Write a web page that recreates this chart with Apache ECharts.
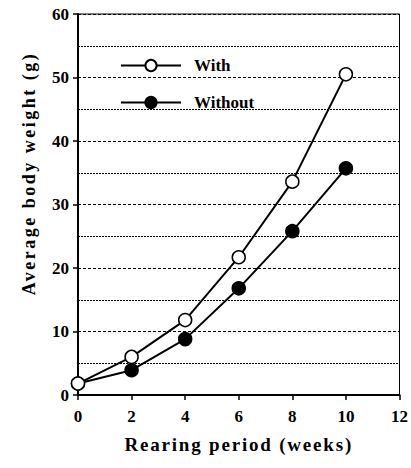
<!DOCTYPE html>
<html><head><meta charset="utf-8">
<script src="https://cdn.jsdelivr.net/npm/echarts@6/dist/echarts.min.js"></script>
<style>html,body{margin:0;padding:0;background:#fff}#c{width:411px;height:468px}</style>
</head><body><div id="c"></div>
<script>
const weeks = [0, 2, 4, 6, 8, 10];
const withValues = [1.8, 6.0, 11.8, 21.7, 33.6, 50.5];
const withoutValues = [1.8, 3.9, 8.8, 16.8, 25.8, 35.7];
const seriesNames = ['With', 'Without'];
const xAxisName = 'Rearing period (weeks)';
const yAxisName = 'Average body weight (g)';

const font = "'Liberation Serif', 'Times New Roman', serif";
const chart = echarts.init(document.getElementById('c'), null, { renderer: 'svg' });
const mk = (arr) => weeks.map((w, i) => [w, arr[i]]);
chart.setOption({
  animation: false,
  backgroundColor: '#fff',
  grid: { left: 78, right: 9, top: 14, bottom: 73, show: true, borderColor: '#000', borderWidth: 1, backgroundColor: 'transparent' },
  legend: {
    orient: 'vertical', left: 115, top: 52, itemWidth: 60, itemHeight: 14, itemGap: 20,
    textStyle: { fontFamily: font, fontWeight: 'bold', fontSize: 17, lineHeight: 14, color: '#000', padding: [0, 0, 0, 8] },
    data: seriesNames
  },
  xAxis: {
    type: 'value', min: 0, max: 12, interval: 2,
    name: xAxisName, nameLocation: 'middle', nameGap: 40,
    nameTextStyle: { fontFamily: font, fontWeight: 'bold', fontSize: 19, color: '#000' },
    axisLine: { lineStyle: { color: '#000', width: 2 } },
    axisTick: { show: true, length: 5, lineStyle: { color: '#000', width: 1.5 } },
    axisLabel: { fontFamily: font, fontWeight: 'bold', fontSize: 17, color: '#000', margin: 13 },
    splitLine: { show: false }
  },
  yAxis: {
    type: 'value', min: 0, max: 60, interval: 10,
    name: yAxisName, nameLocation: 'middle', nameGap: 40, nameRotate: 90,
    nameTextStyle: { fontFamily: font, fontWeight: 'bold', fontSize: 18, color: '#000', padding: [0, 0, 0, 62] },
    axisLine: { show: true, lineStyle: { color: '#000', width: 2 } },
    axisTick: { show: true, length: 5, lineStyle: { color: '#000', width: 1.5 } },
    axisLabel: { fontFamily: font, fontWeight: 'bold', fontSize: 17, color: '#000', margin: 9 },
    splitLine: { show: true, lineStyle: { color: '#000', width: 1, type: [3, 2] } },
    minorTick: { show: false, splitNumber: 2 },
    minorSplitLine: { show: true, lineStyle: { color: '#000', width: 1, type: [2, 1] } }
  },
  series: [
    { name: seriesNames[0], type: 'line', data: mk(withValues), symbol: 'circle', symbolSize: 13,
      lineStyle: { color: '#000', width: 2 }, itemStyle: { color: '#fff', borderColor: '#000', borderWidth: 1.5 }, z: 3 },
    { name: seriesNames[1], type: 'line', data: mk(withoutValues), symbol: 'circle', symbolSize: 13,
      lineStyle: { color: '#000', width: 2 }, itemStyle: { color: '#000', borderColor: '#000', borderWidth: 1.5 }, z: 2 }
  ]
});
function spaceNames() {
  document.querySelectorAll('#c svg text').forEach(t => {
    if (t.textContent === yAxisName) t.style.letterSpacing = '2.5px';
    if (t.textContent === xAxisName) t.style.letterSpacing = '1.8px';
  });
}
spaceNames();
chart.on('finished', spaceNames);
</script></body></html>
